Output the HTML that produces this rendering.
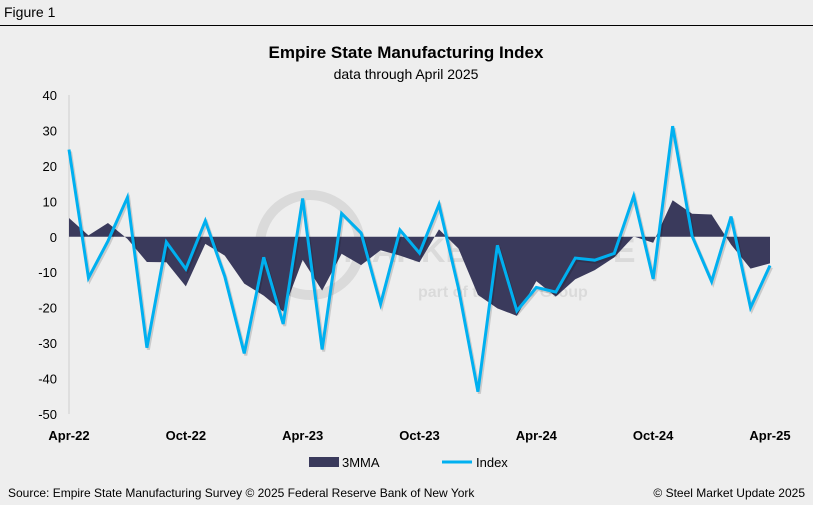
<!DOCTYPE html>
<html><head><meta charset="utf-8"><style>
body{margin:0;background:#eeeeee;font-family:"Liberation Sans",Arial,sans-serif;}
#wrap{position:relative;width:813px;height:505px;background:#eeeeee;overflow:hidden}
</style></head><body>
<div id="wrap">
<svg id="chart" width="813" height="505" xmlns="http://www.w3.org/2000/svg">
<text x="4" y="17" font-size="14" fill="#000">Figure 1</text>
<line x1="0" y1="25.5" x2="813" y2="25.5" stroke="#000" stroke-width="1"/>
<text x="406" y="58" font-size="17" font-weight="bold" text-anchor="middle">Empire State Manufacturing Index</text>
<text x="406" y="79" font-size="14" text-anchor="middle">data through April 2025</text>
<g opacity="0.08">
<circle cx="310" cy="245" r="50" fill="none" stroke="#000" stroke-width="10"/>
<text x="225" y="262" font-size="34" font-weight="bold" fill="#000">STEEL MARKET UPDATE</text>
<text x="418" y="297" font-size="16" font-weight="bold" fill="#000">part of the CRU Group</text>
</g>
<g id="plot"></g>
<g>
<rect x="309" y="457" width="30" height="10" fill="#3a3a5c"/>
<text x="342" y="467" font-size="13">3MMA</text>
<line x1="442" y1="462" x2="472" y2="462" stroke="#00b0f0" stroke-width="3"/>
<text x="476" y="467" font-size="13">Index</text>
</g>
<text x="8" y="497" font-size="12">Source: Empire State Manufacturing Survey © 2025 Federal Reserve Bank of New York</text>
<text x="805" y="497" font-size="12" text-anchor="end">© Steel Market Update 2025</text>
</svg>
</div>
<script>
const months = ["Apr-22","May-22","Jun-22","Jul-22","Aug-22","Sep-22","Oct-22","Nov-22","Dec-22","Jan-23","Feb-23","Mar-23","Apr-23","May-23","Jun-23","Jul-23","Aug-23","Sep-23","Oct-23","Nov-23","Dec-23","Jan-24","Feb-24","Mar-24","Apr-24","May-24","Jun-24","Jul-24","Aug-24","Sep-24","Oct-24","Nov-24","Dec-24","Jan-25","Feb-25","Mar-25","Apr-25"];
const indexValues = [24.6,-11.6,-1.2,11.1,-31.3,-1.5,-9.1,4.5,-11.2,-32.9,-5.8,-24.6,10.8,-31.8,6.6,1.1,-19.0,1.9,-4.6,9.1,-14.5,-43.7,-2.4,-20.9,-14.3,-15.6,-6.0,-6.6,-4.7,11.5,-11.9,31.2,0.2,-12.6,5.7,-20.0,-8.1];
const mmaValues = [5.3,0.4,3.9,-0.6,-7.1,-7.2,-14.0,-2.0,-5.3,-13.2,-16.6,-21.1,-6.5,-15.2,-4.8,-8.0,-3.8,-5.3,-7.2,2.1,-3.3,-16.4,-20.2,-22.3,-12.5,-16.9,-12.0,-9.4,-5.8,0.1,-1.7,10.3,6.5,6.3,-2.2,-9.0,-7.5];
const yTicks = [40,30,20,10,0,-10,-20,-30,-40,-50];
const xTickLabels = ["Apr-22","Oct-22","Apr-23","Oct-23","Apr-24","Oct-24","Apr-25"];

const NS="http://www.w3.org/2000/svg";
const plot=document.getElementById('plot');
const X0=69,X1=770,Y0=95,Y1=414,YMAX=40,YMIN=-50;
const xs=i=>X0+(X1-X0)*i/(months.length-1);
const ys=v=>Y0+(YMAX-v)*(Y1-Y0)/(YMAX-YMIN);
function mk(t,a){const e=document.createElementNS(NS,t);for(const k in a)e.setAttribute(k,a[k]);plot.appendChild(e);return e;}

const ax=mk('line',{x1:X0,y1:Y0,x2:X0,y2:Y1,stroke:'#cfcfcf','stroke-width':1});


yTicks.forEach(v=>{
  const t=mk('text',{x:57,y:ys(v)+5,'font-size':13,'text-anchor':'end',fill:'#000'});
  t.textContent=v;
  
  
});
xTickLabels.forEach(l=>{
  const i=months.indexOf(l);
  const t=mk('text',{x:xs(i),y:440,'font-size':13,'font-weight':'bold','text-anchor':'middle',fill:'#000'});
  t.textContent=l;
  
  
});
let d='M'+xs(0)+','+ys(0);
mmaValues.forEach((v,i)=>{d+=' L'+xs(i)+','+ys(v);});
d+=' L'+xs(mmaValues.length-1)+','+ys(0)+' Z';
const area=mk('path',{d:d,fill:'#3a3a5c'});


const pts=indexValues.map((v,i)=>xs(i)+','+ys(v)).join(' ');
const sh=mk('polyline',{points:pts,fill:'none',stroke:'rgba(0,0,0,0.15)','stroke-width':3,transform:'translate(1.5,2)','stroke-linejoin':'miter'});


const ln=mk('polyline',{points:pts,fill:'none',stroke:'#00b0f0','stroke-width':3,'stroke-linejoin':'miter'});


</script>
</body></html>
